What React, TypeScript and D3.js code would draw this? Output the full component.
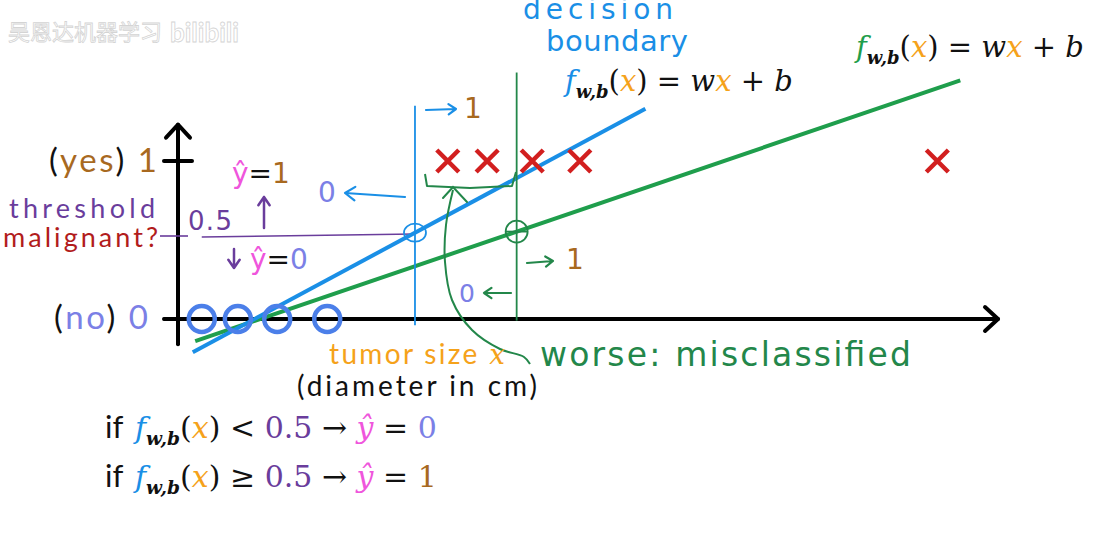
import React from 'react';
import * as d3 from 'd3';

const W = 1099;
const H = 533;

// tumor size along the drawn axis (arbitrary units) and label (0 = benign, 1 = malignant)
const benignX = [0.29, 0.73, 1.21, 1.82];
const malignantX = [3.29, 3.77, 4.32, 4.9, 9.26];
const yTicks = [0, 1];
const yTickLabels = ['0', '1'];
const threshold = 0.5;

// two straight-line fits, given by their end points
const blueFit = [{ x: 0.18, y: -0.21 }, { x: 5.7, y: 1.33 }];
const greenFit = [{ x: 0.21, y: -0.14 }, { x: 9.54, y: 1.51 }];
const blueBoundary = 2.89;
const greenBoundary = 4.13;

const C = {
  blue: '#1a8fe6',
  green: '#1f9e4c',
  hand: '#23874a',
  circle: '#4b7fe9',
  red: '#d21f1f',
  brown: '#a8691f',
  purple: '#6a3d9c',
  pink: '#ef55dc',
  zero: '#7b80e6',
  orange: '#f5a21a',
  darkred: '#b21c1c',
};

const SANS = 'Lato, "Open Sans", sans-serif';
const SERIF = '"DejaVu Serif", "Liberation Serif", serif';
const HAND = '"DejaVu Sans", sans-serif';

const x = d3.scaleLinear().domain([0, 10]).range([178, 998]);
const y = d3.scaleLinear().domain([0, 1]).range([319, 161]);

const line = d3.line<{ x: number; y: number }>().x(d => x(d.x)).y(d => y(d.y));

function valueAt(fit: { x: number; y: number }[], xv: number) {
  const [a, b] = fit;
  return a.y + ((b.y - a.y) * (xv - a.x)) / (b.x - a.x);
}

function Formula({ px, py, size, fColor, children }: any) {
  return (
    <text x={px} y={py} fontFamily={SERIF} fontSize={size} fill="#111">
      <tspan fontStyle="italic" fill={fColor}>f</tspan>
      <tspan fontSize={size * 0.62} fontWeight="bold" fontStyle="italic" dy={size * 0.24}>w,b</tspan>
      <tspan dy={-size * 0.24}>(</tspan>
      <tspan fontStyle="italic" fill={C.orange}>x</tspan>
      <tspan>)</tspan>
      {children}
    </text>
  );
}

function Arrow({ x1, y1, x2, y2, color, width = 2, head = 9 }: any) {
  const ang = Math.atan2(y2 - y1, x2 - x1);
  const a1 = ang + Math.PI - 0.6;
  const a2 = ang + Math.PI + 0.6;
  const d = `M${x1},${y1}L${x2},${y2}M${x2 + head * Math.cos(a1)},${y2 + head * Math.sin(a1)}L${x2},${y2}L${x2 + head * Math.cos(a2)},${y2 + head * Math.sin(a2)}`;
  return <path d={d} stroke={color} strokeWidth={width} fill="none" strokeLinecap="round" strokeLinejoin="round" />;
}

export default function App() {
  const blueCross = valueAt(blueFit, blueBoundary);
  const greenCross = valueAt(greenFit, greenBoundary);
  const curve = d3.line().curve(d3.curveCatmullRom)([
    [453, 190], [446, 225], [445, 262], [452, 300], [472, 330], [500, 349], [524, 357], [530, 364],
  ]);

  return (
    <svg width={W} height={H} style={{ position: 'absolute', left: 0, top: 0, background: '#fff' }}>
      {/* watermark */}
      <text x={8} y={40} fontFamily='"Noto Sans CJK SC", sans-serif' fontSize={22} fill="#fff" stroke="#d4d4d4" strokeWidth={0.8}>吴恩达机器学习</text>
      <text x={170} y={42} fontFamily={SANS} fontSize={26} fontWeight="bold" fill="#fff" stroke="#d4d4d4" strokeWidth={0.8}>bilibili</text>

      {/* axes */}
      <g stroke="#000" strokeWidth={4} fill="none" strokeLinecap="round" strokeLinejoin="round">
        <line x1={x(-0.16)} x2={x(10)} y1={y(0)} y2={y(0)} />
        <path d={`M${x(10) - 13},${y(0) - 12}L${x(10)},${y(0)}L${x(10) - 13},${y(0) + 12}`} />
        <line x1={x(0)} x2={x(0)} y1={y(-0.16)} y2={y(1.23)} />
        <path d={`M${x(0) - 12},${y(1.23) + 13}L${x(0)},${y(1.23)}L${x(0) + 12},${y(1.23) + 13}`} />
        {yTicks.map(t => (
          <line key={t} x1={x(0) - 14} x2={x(0) + 14} y1={y(t)} y2={y(t)} />
        ))}
      </g>

      {/* y tick labels */}
      <text x={49} y={y(yTicks[1]) + 11} fontFamily={SANS} fontSize={33} textLength={108}>
        <tspan fill="#111">(</tspan><tspan fill={C.brown}>yes</tspan><tspan fill="#111">) </tspan>
        <tspan fill={C.brown}>{yTickLabels[1]}</tspan>
      </text>
      <text x={54} y={y(yTicks[0]) + 10} fontFamily={SANS} fontSize={33} textLength={94}>
        <tspan fill="#111">(</tspan><tspan fill={C.zero}>no</tspan><tspan fill="#111">) </tspan>
        <tspan fill={C.zero}>{yTickLabels[0]}</tspan>
      </text>
      <text x={9} y={218} fontFamily={SANS} fontSize={27} fill={C.purple} textLength={146}>threshold</text>
      <text x={3} y={247} fontFamily={SANS} fontSize={27} fill={C.darkred} textLength={155}>malignant?</text>

      {/* threshold line */}
      <line x1={160} x2={188} y1={y(threshold) - 4} y2={y(threshold) - 4} stroke={C.purple} strokeWidth={1.6} />
      <line x1={x(0.29)} x2={x(blueBoundary)} y1={y(threshold) - 3} y2={y(threshold) - 6} stroke={C.purple} strokeWidth={1.6} />
      <text x={188} y={230} fontFamily={HAND} fontSize={26} fill={C.purple} textLength={44}>0.5</text>
      <Arrow x1={264} y1={228} x2={264} y2={197} color={C.purple} width={2.5} head={10} />
      <Arrow x1={234} y1={249} x2={234} y2={268} color={C.purple} width={2.5} head={10} />
      <text x={232} y={183} fontFamily={HAND} fontSize={28}>
        <tspan fill={C.pink}>ŷ</tspan><tspan fill="#111">=</tspan><tspan fill={C.brown}>1</tspan>
      </text>
      <text x={250} y={269} fontFamily={HAND} fontSize={28}>
        <tspan fill={C.pink}>ŷ</tspan><tspan fill="#111">=</tspan><tspan fill={C.zero}>0</tspan>
      </text>

      {/* fitted lines */}
      <path d={line(greenFit) as string} stroke={C.green} strokeWidth={4} fill="none" />
      <path d={line(blueFit) as string} stroke={C.blue} strokeWidth={4} fill="none" />

      {/* decision boundaries */}
      <line x1={x(blueBoundary)} x2={x(blueBoundary)} y1={y(1.35)} y2={y(-0.04)} stroke={C.blue} strokeWidth={1.8} />
      <line x1={x(greenBoundary)} x2={x(greenBoundary)} y1={y(1.56)} y2={y(-0.01)} stroke={C.hand} strokeWidth={1.8} />
      <ellipse cx={x(blueBoundary)} cy={y(blueCross)} rx={11} ry={9} stroke={C.blue} strokeWidth={1.8} fill="none" />
      <circle cx={x(greenBoundary)} cy={y(greenCross)} r={11} stroke={C.hand} strokeWidth={1.8} fill="none" />
      <line x1={x(greenBoundary) - 11} x2={x(greenBoundary) + 11} y1={y(greenCross)} y2={y(greenCross)} stroke={C.hand} strokeWidth={1.8} />

      {/* data points */}
      {benignX.map((d, i) => (
        <circle key={i} cx={x(d)} cy={y(0)} r={13} stroke={C.circle} strokeWidth={4.5} fill="none" />
      ))}
      {malignantX.map((d, i) => (
        <path key={i} d={`M${x(d) - 11},${y(1) - 11}L${x(d) + 11},${y(1) + 11}M${x(d) + 11},${y(1) - 11}L${x(d) - 11},${y(1) + 11}`} stroke={C.red} strokeWidth={4.5} />
      ))}

      {/* blue boundary annotations */}
      <Arrow x1={405} y1={197} x2={345} y2={193} color={C.blue} width={2.2} head={12} />
      <text x={318} y={202} fontFamily={HAND} fontSize={28} fill={C.zero}>0</text>
      <Arrow x1={426} y1={110} x2={456} y2={109} color={C.blue} width={2.2} head={9} />
      <text x={464} y={118} fontFamily={HAND} fontSize={28} fill={C.brown}>1</text>
      <text x={523} y={19} fontFamily={HAND} fontSize={28} fill={C.blue} textLength={150}>decision</text>
      <text x={546} y={51} fontFamily={HAND} fontSize={29} fill={C.blue} textLength={142}>boundary</text>
      <Formula px={565} py={91} size={29} fColor={C.blue}>
        <tspan>{' = '}</tspan><tspan fontStyle="italic">w</tspan>
        <tspan fontStyle="italic" fill={C.orange}>x</tspan><tspan>{' + '}</tspan><tspan fontStyle="italic">b</tspan>
      </Formula>
      <Formula px={856} py={57} size={29} fColor={C.green}>
        <tspan>{' = '}</tspan><tspan fontStyle="italic">w</tspan>
        <tspan fontStyle="italic" fill={C.orange}>x</tspan><tspan>{' + '}</tspan><tspan fontStyle="italic">b</tspan>
      </Formula>

      {/* green boundary annotations */}
      <path d="M425,174L427,186L470,188L512,186L516,172" stroke={C.hand} strokeWidth={2} fill="none" strokeLinejoin="round" />
      <path d={curve as string} stroke={C.hand} strokeWidth={2} fill="none" />
      <path d="M443,198L453,187L467,202" stroke={C.hand} strokeWidth={2} fill="none" strokeLinecap="round" />
      <Arrow x1={527} y1={263} x2={553} y2={261} color={C.hand} width={2.2} head={9} />
      <text x={566} y={269} fontFamily={HAND} fontSize={28} fill={C.brown}>1</text>
      <Arrow x1={511} y1={293} x2={484} y2={293} color={C.hand} width={2.2} head={9} />
      <text x={459} y={302} fontFamily={HAND} fontSize={25} fill={C.zero}>0</text>
      <text x={540} y={366} fontFamily={HAND} fontSize={33} fill={C.hand} textLength={371}>worse: misclassified</text>

      {/* x axis title */}
      <text x={329} y={364} fontFamily={SANS} fontSize={28} fill={C.orange} textLength={176}>
        tumor size <tspan fontFamily={SERIF} fontStyle="italic">x</tspan>
      </text>
      <text x={297} y={396} fontFamily={SANS} fontSize={28} fill="#111" textLength={240}>(diameter in cm)</text>

      {/* decision rule */}
      <text x={105} y={438} fontFamily={SANS} fontSize={31} fill="#111">if </text>
      <Formula px={135} py={438} size={30} fColor={C.blue}>
        <tspan>{' < '}</tspan><tspan fill={C.purple}>{threshold}</tspan><tspan>{' → '}</tspan>
        <tspan fontStyle="italic" fill={C.pink}>ŷ</tspan><tspan>{' = '}</tspan><tspan fill={C.zero}>0</tspan>
      </Formula>
      <text x={105} y={487} fontFamily={SANS} fontSize={31} fill="#111">if </text>
      <Formula px={135} py={487} size={30} fColor={C.blue}>
        <tspan>{' ≥ '}</tspan><tspan fill={C.purple}>{threshold}</tspan><tspan>{' → '}</tspan>
        <tspan fontStyle="italic" fill={C.pink}>ŷ</tspan><tspan>{' = '}</tspan><tspan fill={C.brown}>1</tspan>
      </Formula>
    </svg>
  );
}
